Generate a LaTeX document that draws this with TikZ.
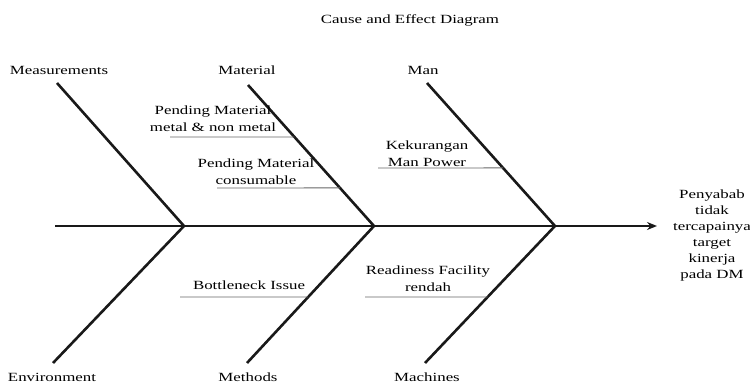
\documentclass[tikz,border=0pt]{standalone}
\usepackage{fontspec}
\setmainfont{Liberation Serif}
\usetikzlibrary{arrows.meta,calc}
\begin{document}
\begin{tikzpicture}[x=1pt,y=-1pt,
  lbl/.style={font=\fontsize{12.5}{17}\selectfont, align=center, xscale=1.35, transform shape, inner sep=0pt, text=black},
  bone/.style={line width=2.6pt, draw=black!90},
  uline/.style={line width=0.9pt, draw=black!60}]
\useasboundingbox[fill=white] (0,0) rectangle (750,385);

% coordinates of the skeleton
\coordinate (s0) at (55,226);
\coordinate (j1) at (184,226);
\coordinate (j2) at (374,226);
\coordinate (j3) at (555,226);
\coordinate (tip) at (657,226);
\coordinate (t1) at (57,83);
\coordinate (t2) at (248,85);
\coordinate (t3) at (427,83);
\coordinate (b1) at (53,363);
\coordinate (b2) at (247,363);
\coordinate (b3) at (425,363);

% title and category labels
\node[lbl] (title) at (410,20) {Cause and Effect Diagram};
\node[lbl] (meas) at (59,70) {Measurements};
\node[lbl] (mat) at (247,70) {Material};
\node[lbl] (man) at (423,70) {Man};
\node[lbl] (env) at (52,377) {Environment};
\node[lbl] (meth) at (248,377) {Methods};
\node[lbl] (mach) at (427,377) {Machines};

% effect
\node[lbl, font=\fontsize{12.5}{16}\selectfont] (eff) at (712,235) {Penyabab\\tidak\\tercapainya\\target\\kinerja\\pada DM};

% spine and bones
\draw[bone, -{Stealth[length=10pt,width=8pt]}] (s0) -- (tip);
\draw[bone] (t1) -- (j1);
\draw[bone] (t2) -- (j2);
\draw[bone] (t3) -- (j3);
\draw[bone] (b1) -- (j1);
\draw[bone] (b2) -- (j2);
\draw[bone] (b3) -- (j3);

% sub causes
\node[lbl] (pm1) at (213,119) {Pending Material\\metal \& non metal};
\node[lbl] (pm2) at (256,172) {Pending Material\\consumable};
\node[lbl] (kek) at (427,154) {Kekurangan\\Man Power};
\node[lbl] (bot) at (249,285) {Bottleneck Issue};
\node[lbl] (rea) at (428,279) {Readiness Facility\\rendah};

\coordinate (u1s) at (170,137);
\coordinate (u2s) at (217,188);
\coordinate (u3s) at (378,168);
\coordinate (u4s) at (180,297);
\coordinate (u5s) at (365,297);
\draw[uline] (u1s) -- ($(t2)!0.369!(j2)$);
\draw[uline] (u2s) -- ($(t2)!0.730!(j2)$);
\draw[uline] (u3s) -- ($(t3)!0.594!(j3)$);
\draw[uline] (u4s) -- ($(j2)!0.518!(b2)$);
\draw[uline] (u5s) -- ($(j3)!0.518!(b3)$);
\end{tikzpicture}
\end{document}
